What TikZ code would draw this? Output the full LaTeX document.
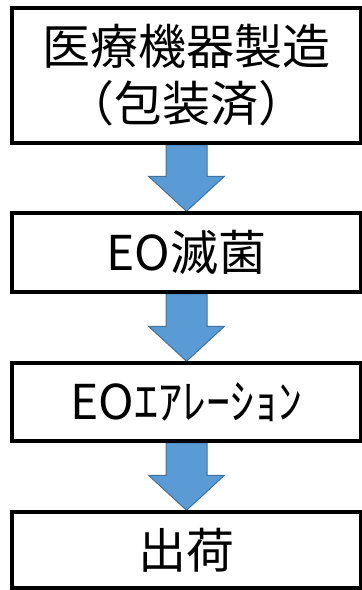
\documentclass[tikz,border=0pt]{standalone}
\usepackage{fontspec}
\newfontfamily\jp{Noto Sans CJK JP}
\usetikzlibrary{calc,backgrounds}
\definecolor{arrowfill}{HTML}{5B9BD5}
\definecolor{arrowline}{HTML}{41719C}
\tikzset{
  box/.style={draw=black, line width=3.5pt, fill=white, rectangle, minimum width=349pt, inner sep=0pt, align=center, font=\jp\fontsize{48}{57}\selectfont},
  barrow/.style={fill=arrowfill, draw=arrowline, line width=1pt, line join=miter}
}
\newcommand\blockarrow[2]{%
  \draw[barrow] let \p1=(#1.south), \p2=(#2.north) in
    (\x1-20.5pt,\y1) -- (\x1+20.5pt,\y1) -- (\x1+20.5pt,\y2+35pt) -- (\x1+38pt,\y2+35pt)
    -- (\x1,\y2) -- (\x1-38pt,\y2+35pt) -- (\x1-20.5pt,\y2+35pt) -- cycle;}
\begin{document}
\begin{tikzpicture}[x=1pt,y=-1pt]
\useasboundingbox (0,0) rectangle (362,590);
\node[box, minimum height=135pt] (b1) at (186.5,75.5) {医療機器製造\\（包装済）};
\node[box, minimum height=79pt] (b2) at (186.5,252.5) {EO滅菌};
\node[box, minimum height=78pt] (b3) at (186.5,402) {EOｴｱﾚｰｼｮﾝ};
\node[box, minimum height=76pt] (b4) at (186.5,550) {\raisebox{-4pt}{出荷}};
\begin{scope}[on background layer]
\blockarrow{b1}{b2}
\blockarrow{b2}{b3}
\blockarrow{b3}{b4}
\end{scope}
\end{tikzpicture}
\end{document}
